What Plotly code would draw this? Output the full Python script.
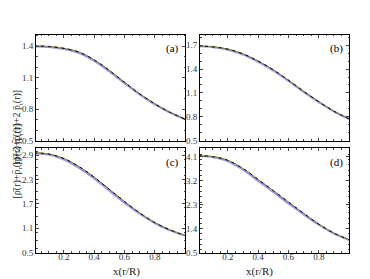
import plotly.graph_objects as go

# ── data ────────────────────────────────────────────────────
x_vals = [0.0, 0.1, 0.2, 0.3, 0.4, 0.5, 0.6, 0.7, 0.8, 0.9, 1.0]

# panel (a)
a_main = [1.400, 1.395, 1.378, 1.342, 1.268, 1.168, 1.055, 0.945, 0.850, 0.770, 0.705]
a_blue = [1.398, 1.392, 1.373, 1.335, 1.260, 1.160, 1.048, 0.940, 0.846, 0.768, 0.703]
# panel (b)
b_main = [1.690, 1.680, 1.650, 1.590, 1.500, 1.390, 1.260, 1.120, 0.990, 0.870, 0.775]
b_blue = [1.688, 1.677, 1.645, 1.583, 1.492, 1.381, 1.251, 1.113, 0.985, 0.867, 0.773]
# panel (c)
c_main = [2.96, 2.93, 2.82, 2.62, 2.36, 2.06, 1.76, 1.48, 1.24, 1.06, 0.92]
c_blue = [2.95, 2.92, 2.80, 2.59, 2.33, 2.03, 1.73, 1.46, 1.23, 1.05, 0.92]
# panel (d)
d_main = [4.15, 4.11, 3.97, 3.66, 3.25, 2.83, 2.40, 1.98, 1.57, 1.23, 0.98]
d_blue = [4.14, 4.09, 3.94, 3.62, 3.20, 2.78, 2.35, 1.94, 1.55, 1.22, 0.98]

y_ticks = {
    'a': [0.5, 0.8, 1.1, 1.4],
    'b': [0.5, 0.8, 1.1, 1.4, 1.7],
    'c': [0.5, 1.1, 1.7, 2.3, 2.9],
    'd': [0.5, 1.4, 2.3, 3.2, 4.1],
}
y_ranges = {'a': [0.5, 1.51], 'b': [0.5, 1.835], 'c': [0.5, 3.07], 'd': [0.5, 4.42]}
x_ticks = [0.2, 0.4, 0.6, 0.8]

panels = [('a', a_main, a_blue), ('b', b_main, b_blue),
          ('c', c_main, c_blue), ('d', d_main, d_blue)]

# ── layout geometry (paper coords) ──────────────────────────
W, H = 370, 279
x_dom = {'a': [28 / W, 177 / W], 'b': [192 / W, 341 / W],
         'c': [28 / W, 177 / W], 'd': [192 / W, 341 / W]}
top_row = [1 - 135 / H, 1 - 27 / H]
bot_row = [1 - 249 / H, 1 - 143 / H]
y_dom = {'a': top_row, 'b': top_row, 'c': bot_row, 'd': bot_row}

SERIF = 'Liberation Serif'
fig = go.Figure()

for i, (key, main, blue) in enumerate(panels, start=1):
    xa = 'x' if i == 1 else f'x{i}'
    ya = 'y' if i == 1 else f'y{i}'
    fig.add_trace(go.Scatter(x=x_vals, y=blue, mode='lines', line_shape='spline',
                             line=dict(color='rgba(120,120,255,0.8)', width=2.2),
                             xaxis=xa, yaxis=ya, showlegend=False, hoverinfo='skip'))
    fig.add_trace(go.Scatter(x=x_vals, y=main, mode='lines', line_shape='spline',
                             line=dict(color='#e0402a', width=1),
                             xaxis=xa, yaxis=ya, showlegend=False, hoverinfo='skip'))
    fig.add_trace(go.Scatter(x=x_vals, y=main, mode='lines', line_shape='spline',
                             line=dict(color='#6cc02e', width=0.8),
                             xaxis=xa, yaxis=ya, showlegend=False, hoverinfo='skip'))
    fig.add_trace(go.Scatter(x=x_vals, y=main, mode='lines', line_shape='spline',
                             line=dict(color='black', width=1, dash='3px,4px'),
                             xaxis=xa, yaxis=ya, showlegend=False, hoverinfo='skip'))

    axis_common = dict(showline=True, linecolor='black', linewidth=1, mirror='allticks',
                       ticks='inside', ticklen=3, tickwidth=0.8, tickcolor='#444',
                       showgrid=False, zeroline=False,
                       tickfont=dict(family=SERIF, size=9, color='#333'))
    xname = 'xaxis' if i == 1 else f'xaxis{i}'
    yname = 'yaxis' if i == 1 else f'yaxis{i}'
    fig.update_layout({
        xname: dict(axis_common, domain=x_dom[key], range=[0.015, 1.0], anchor=ya,
                    tickvals=x_ticks, showticklabels=key in ('c', 'd'),
                    ticklabelstandoff=-4,
                    minor=dict(dtick=0.05, ticks='inside', ticklen=1.5, tickcolor='#444')),
        yname: dict(axis_common, domain=y_dom[key], range=y_ranges[key], anchor=xa,
                    tickvals=y_ticks[key], ticklabelstandoff=0,
                    minor=dict(nticks=4, ticks='inside', ticklen=1.5, tickcolor='#444')),
    })
    fig.add_annotation(text=f'({key})', xref=f'{xa} domain', yref=f'{ya} domain',
                       x=0.97, y=0.95, xanchor='right', yanchor='top', showarrow=False,
                       font=dict(family=SERIF, size=11, color='black'))

# axis titles
ytitle = '[ρ\u0304(r)+p\u0304<sub>r</sub>(r)+2 p\u0304<sub>t</sub>(r)]'
for row in (top_row, bot_row):
    fig.add_annotation(text=ytitle, xref='paper', yref='paper', x=1 / W, xanchor='left',
                       y=(row[0] + row[1]) / 2, textangle=-90, showarrow=False,
                       font=dict(family=SERIF, size=10, color='#222'))
for key in ('c', 'd'):
    fig.add_annotation(text='x(r/R)', xref='paper', yref='paper',
                       x=(x_dom[key][0] + x_dom[key][1]) / 2, y=1 - 268 / H,
                       yanchor='middle', showarrow=False,
                       font=dict(family=SERIF, size=11, color='#222'))

fig.update_layout(width=W, height=H, margin=dict(l=0, r=0, t=0, b=0),
                  plot_bgcolor='white', paper_bgcolor='white')

fig.write_html("out.html")
